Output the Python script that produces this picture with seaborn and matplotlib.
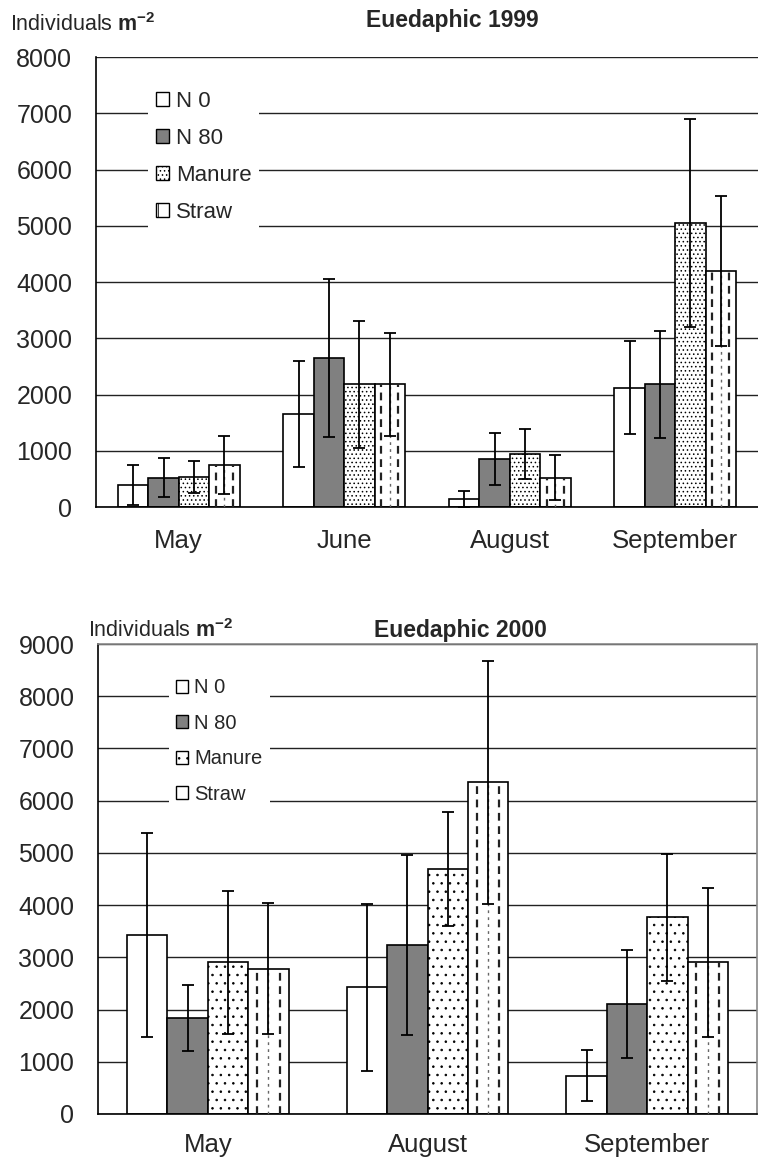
import numpy as np
import pandas as pd
import matplotlib
matplotlib.use('Agg')
import matplotlib.pyplot as plt
import seaborn as sns
from matplotlib.patches import Patch

# Data (individuals per m2, mean and error)
treatments = ['N 0', 'N 80', 'Manure', 'Straw']

months_1999 = ['May', 'June', 'August', 'September']
n0_1999 = [390, 1650, 140, 2125]
n80_1999 = [520, 2645, 855, 2180]
manure_1999 = [530, 2180, 945, 5045]
straw_1999 = [745, 2180, 525, 4190]
n0_1999_err = [355, 940, 140, 830]
n80_1999_err = [345, 1405, 470, 950]
manure_1999_err = [285, 1135, 440, 1850]
straw_1999_err = [520, 920, 395, 1335]

months_2000 = ['May', 'August', 'September']
n0_2000 = [3430, 2430, 735]
n80_2000 = [1840, 3235, 2105]
manure_2000 = [2905, 4685, 3770]
straw_2000 = [2780, 6350, 2905]
n0_2000_err = [1960, 1600, 485]
n80_2000_err = [625, 1720, 1030]
manure_2000_err = [1365, 1090, 1215]
straw_2000_err = [1255, 2330, 1430]

colors = {'N 0': 'white', 'N 80': '#808080', 'Manure': 'white', 'Straw': 'white'}

sns.set_style('white')
plt.rcParams['font.family'] = ['Liberation Sans', 'DejaVu Sans']
plt.rcParams['mathtext.fontset'] = 'custom'
plt.rcParams['mathtext.rm'] = 'Liberation Sans'
plt.rcParams['mathtext.bf'] = 'Liberation Sans:bold'
plt.rcParams['hatch.linewidth'] = 0.6
plt.rcParams['hatch.color'] = '#444444'


def draw_panel(ax, months, means, errs, ymax, dot_hatch, fs_leg, leg_anchor, leg_space, label_pad, boxed):
    rows = []
    for t in treatments:
        for m, v in zip(months, means[t]):
            rows.append({'month': m, 'treatment': t, 'value': v})
    df = pd.DataFrame(rows)

    sns.barplot(data=df, x='month', y='value', hue='treatment', order=months,
                hue_order=treatments, palette=colors, saturation=1, width=0.735,
                edgecolor='black', linewidth=1.2, errorbar=None, legend=False,
                ax=ax, zorder=2)

    for cont, t in zip(ax.containers, treatments):
        cx = [r.get_x() + r.get_width() / 2 for r in cont]
        cy = [r.get_height() for r in cont]
        if t == 'Manure':
            for r in cont:
                r.set_hatch(dot_hatch)
        if t == 'Straw':
            for r in cont:
                x0, w, h = r.get_x(), r.get_width(), r.get_height()
                ax.vlines([x0 + w * 0.22, x0 + w * 0.78], 0, h, colors='#222222',
                          linestyles=(0, (3.5, 2.5)), lw=1.6, zorder=3)
                ax.vlines([x0 + w * 0.5], 0, h, colors='#666666',
                          linestyles=(0, (2, 3)), lw=1.0, zorder=3)
        ax.errorbar(cx, cy, yerr=errs[t], fmt='none', ecolor='black',
                    elinewidth=1.3, capsize=4.5, capthick=1.3, zorder=4)

    n = len(months)
    ax.set_xlim(-0.5, n - 0.5)
    ax.set_ylim(0, ymax)
    ax.set_yticks(np.arange(0, ymax + 1, 1000))
    ax.set_xticks(np.arange(n))
    ax.set_xticklabels(months)
    ax.set_xticks(np.arange(-0.5, n), minor=True)
    ax.tick_params(axis='x', which='major', length=0, pad=label_pad, labelsize=18.5)
    ax.tick_params(axis='x', which='minor', length=7, width=1, color='black', direction='out')
    ax.tick_params(axis='y', length=7, width=1, color='black', direction='out',
                   labelsize=18, pad=10)
    ax.set_xlabel('')
    ax.set_ylabel('')
    ax.yaxis.grid(True, color='#222222', lw=1)
    ax.set_axisbelow(True)

    for s in ['left', 'bottom']:
        ax.spines[s].set_color('black')
        ax.spines[s].set_linewidth(1.2)
    if boxed:
        for s in ['top', 'right']:
            ax.spines[s].set_color('#888888')
            ax.spines[s].set_linewidth(1.2)
    else:
        ax.spines['right'].set_visible(False)
        ax.spines['top'].set_visible(False)

    handles = [Patch(facecolor=colors[t], edgecolor='black', lw=1,
                     hatch={'Manure': dot_hatch, 'Straw': '|'}.get(t, ''), label=t)
               for t in treatments]
    leg = ax.legend(handles=handles, loc='upper left', bbox_to_anchor=leg_anchor,
                    bbox_transform=ax.figure.transFigure, fontsize=fs_leg,
                    frameon=True, facecolor='white', edgecolor='none', framealpha=1,
                    handlelength=0.6, handleheight=0.6, handletextpad=0.3,
                    labelspacing=leg_space, borderpad=0.35, fancybox=False)
    leg.set_zorder(5)


fig = plt.figure(figsize=(7.58, 11.64), dpi=100)

ax1 = fig.add_axes([0.1266, 0.5644, 0.8734, 0.3866])
draw_panel(ax1, months_1999,
           {'N 0': n0_1999, 'N 80': n80_1999, 'Manure': manure_1999, 'Straw': straw_1999},
           {'N 0': n0_1999_err, 'N 80': n80_1999_err, 'Manure': manure_1999_err, 'Straw': straw_1999_err},
           8000, '....', 16, (0.181, 0.938), 0.72, 16, False)

ax2 = fig.add_axes([0.1293, 0.0430, 0.8694, 0.4037])
draw_panel(ax2, months_2000,
           {'N 0': n0_2000, 'N 80': n80_2000, 'Manure': manure_2000, 'Straw': straw_2000},
           {'N 0': n0_2000_err, 'N 80': n80_2000_err, 'Manure': manure_2000_err, 'Straw': straw_2000_err},
           9000, '..', 14.5, (0.21, 0.432), 0.82, 14, True)

fig.text(10 / 758, 1 - 25 / 1164, 'Individuals $\\mathbf{m^{-2}}$', fontsize=15.5, ha='left', va='center')
fig.text(452 / 758, 1 - 21 / 1164, 'Euedaphic 1999', fontsize=16.5, weight='bold', ha='center', va='center')
fig.text(88 / 758, 1 - 631 / 1164, 'Individuals $\\mathbf{m^{-2}}$', fontsize=15.5, ha='left', va='center')
fig.text(460 / 758, 1 - 631 / 1164, 'Euedaphic 2000', fontsize=16.5, weight='bold', ha='center', va='center')

fig.savefig('out.png', dpi=100)
